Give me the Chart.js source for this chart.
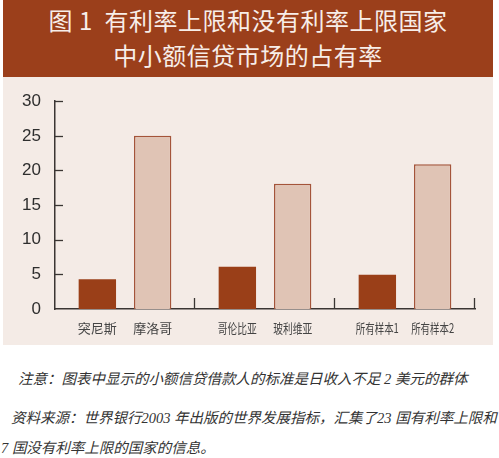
<!DOCTYPE html>
<html><head><meta charset="utf-8">
<script src="https://cdn.jsdelivr.net/npm/chart.js@4"></script>
<style>
html,body{margin:0;padding:0;background:#fff;width:499px;height:458px;overflow:hidden;}
#hdr{position:absolute;left:3px;top:0;width:490px;height:77px;background:#9b3f1b;color:#f7eee9;font-family:"Noto Sans CJK SC",sans-serif;text-align:center;}
#hdr .l1{position:absolute;left:0;right:0;top:4px;font-size:24px;line-height:32px;letter-spacing:0.5px;}
#hdr .l2{position:absolute;left:0;right:0;top:39px;font-size:24px;line-height:32px;letter-spacing:0.5px;}
#panel{position:absolute;left:3px;top:77px;width:490px;height:268px;background:#f4ebe6;}
.note{position:absolute;font-family:"Liberation Serif","Noto Sans CJK SC",serif;font-style:italic;font-size:14.5px;color:#333;white-space:nowrap;line-height:20px;}
</style></head>
<body>
<div id="hdr"><div class="l1">图 1&nbsp; 有利率上限和没有利率上限国家</div><div class="l2">中小额信贷市场的占有率</div></div>
<div id="panel"><canvas id="c" width="490" height="268"></canvas></div>
<div class="note" style="left:18px;top:369px;">注意：图表中显示的小额信贷借款人的标准是日收入不足 2 美元的群体</div>
<div class="note" style="left:11px;top:408px;">资料来源：世界银行2003 年出版的世界发展指标，汇集了23 国有利率上限和</div>
<div class="note" style="left:1px;top:438px;">7 国没有利率上限的国家的信息。</div>
<script>
const groups = ['组1','组2','组3'];
const capLabels = ['突尼斯','哥伦比亚','所有样本1'];
const noCapLabels = ['摩洛哥','玻利维亚','所有样本2'];
const capValues = [4.3, 6.1, 4.95];
const noCapValues = [25, 18.1, 20.9];
const yTicks = [0,5,10,15,20,25,30];

const axisColor = '#3a3533';
const axisPlugin = {
  id:'axisDeco',
  afterDatasetsDraw(chart){
    const ctx = chart.ctx, x = chart.scales.x, y = chart.scales.y, a = chart.chartArea;
    ctx.save();
    ctx.strokeStyle = axisColor; ctx.lineWidth = 1.3;
    yTicks.forEach(v=>{ if(v===0) return; const py = Math.round(y.getPixelForValue(v))+0.5; ctx.beginPath(); ctx.moveTo(a.left, py); ctx.lineTo(a.left+8, py); ctx.stroke(); });
    const bounds = [x.getPixelForValue(0.5), x.getPixelForValue(1.5), a.right];
    bounds.forEach(bx=>{ const px = Math.round(bx)-0.5; ctx.beginPath(); ctx.moveTo(px, a.bottom); ctx.lineTo(px, a.bottom-11); ctx.stroke(); });
    ctx.fillStyle = '#444'; ctx.font = '13px "Noto Sans CJK SC"'; ctx.textAlign='center'; ctx.textBaseline='middle';
    const m0 = chart.getDatasetMeta(0), m1 = chart.getDatasetMeta(1);
    const draw = (t, bx) => ctx.fillText(t, bx, a.bottom+19, /\d/.test(t) ? 43 : 39);
    m0.data.forEach((b,i)=>draw(capLabels[i], b.x));
    m1.data.forEach((b,i)=>draw(noCapLabels[i], b.x));
    ctx.restore();
  }
};
new Chart(document.getElementById('c'), {
  type:'bar',
  data:{labels:groups, datasets:[
    {label:'有利率上限', data:capValues, backgroundColor:'#9a3f18', borderColor:'#9a3f18', borderWidth:0},
    {label:'没有利率上限', data:noCapValues, backgroundColor:'#e0c4b5', borderColor:'#a4543a', borderWidth:1.5}
  ]},
  options:{
    responsive:false, animation:false, devicePixelRatio:1,
    categoryPercentage:0.79, barPercentage:0.676,
    layout:{padding:{top:24,right:18,left:0,bottom:0}},
    plugins:{legend:{display:false}, tooltip:{enabled:false}, title:{display:false}},
    scales:{
      x:{ticks:{display:false}, grid:{display:false, drawTicks:false}, border:{display:true,color:axisColor,width:1.5},
         afterFit(s){s.height=36;}},
      y:{min:0,max:30, afterBuildTicks(s){s.ticks = yTicks.map(v=>({value:v}));},
         ticks:{color:'#2e2e2e', font:{family:'"Liberation Sans", Arial', size:17}, padding:14},
         grid:{display:false, drawTicks:false}, border:{display:true,color:axisColor,width:1.5},
         afterFit(s){s.width=52;}}
    }
  },
  plugins:[axisPlugin]
});
</script>
</body></html>
